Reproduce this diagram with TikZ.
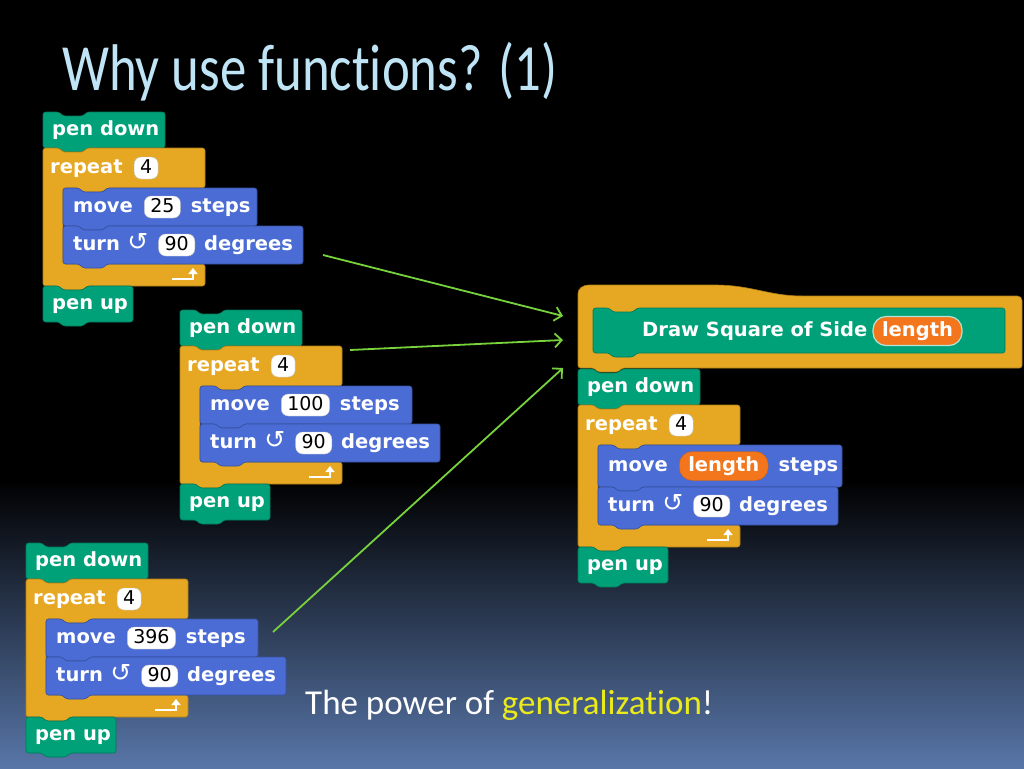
\documentclass[tikz,border=0pt]{standalone}
\usepackage{fontspec}
\setmainfont{Carlito}[Ligatures=NoCommon]
\newfontfamily\titlefont{Carlito}[FakeStretch=0.8, Ligatures=NoCommon]
\newfontfamily\snapfont{DejaVu Sans}
\usetikzlibrary{positioning,arrows.meta}

\definecolor{pen}{RGB}{0,161,120}
\definecolor{ctrl}{RGB}{230,168,34}
\definecolor{motion}{RGB}{74,108,212}
\definecolor{varorange}{RGB}{243,118,29}
\definecolor{titleblue}{RGB}{190,228,245}
\definecolor{linkgreen}{RGB}{120,210,60}
\definecolor{genyellow}{RGB}{235,235,25}
\definecolor{slidebottom}{RGB}{88,118,168}

\tikzset{
  blk/.style={draw=#1!75!black, fill=#1, line width=0.6pt, rounded corners=2.5pt},
  blocktext/.style={font=\snapfont\bfseries\fontsize{19.5}{19.5}\selectfont, text=white,
    inner sep=0pt, text height=14pt, text depth=4pt},
  turnicon/.style={font=\snapfont\fontsize{25}{25}\selectfont, text=white,
    inner sep=0pt, text height=14pt, text depth=4pt},
  numslot/.style={fill=white, draw=black!25, rounded corners=7pt,
    font=\snapfont\fontsize{19}{19}\selectfont, text=black, inner xsep=6pt,
    inner ysep=0pt, minimum height=22pt, text height=13.5pt, text depth=3.5pt},
  varslot/.style={fill=varorange, draw=varorange!80!black, rounded corners=13pt,
    font=\snapfont\bfseries\fontsize{19.5}{19.5}\selectfont, text=white, inner xsep=9pt,
    inner ysep=0pt, minimum height=29pt, text height=14pt, text depth=4pt},
  link/.style={draw=linkgreen, line width=1.8pt, -{Straight Barb[length=7pt,width=14pt]}},
}

% command block: colour, x, y, width, height
\newcommand{\cmdblock}[5]{%
  \filldraw[blk=#1] (#2,#3) -- ++(16,0) -- ++(4,4) -- ++(20,0) -- ++(4,-4)
    -- ({#2+#4},#3) -- ({#2+#4},{#3+#5}) -- ({#2+44},{#3+#5}) -- ++(-4,4)
    -- ++(-20,0) -- ++(-4,-4) -- (#2,{#3+#5}) -- cycle;}

% c-shaped block: x, y, width, top arm, inner height, bottom arm
\newcommand{\cblock}[6]{%
  \filldraw[blk=ctrl] (#1,#2) -- ++(16,0) -- ++(4,4) -- ++(20,0) -- ++(4,-4)
    -- ({#1+#3},#2) -- ++(0,#4) -- ({#1+64},{#2+#4}) -- ++(-4,4) -- ++(-20,0)
    -- ++(-4,-4) -- ({#1+20},{#2+#4}) -- ++(0,#5) -- ({#1+#3},{#2+#4+#5})
    -- ++(0,#6) -- ({#1+44},{#2+#4+#5+#6}) -- ++(-4,4) -- ++(-20,0) -- ++(-4,-4)
    -- (#1,{#2+#4+#5+#6}) -- cycle;}

% one square-drawing script: name, x, y, slot style, slot text, move width, move height
\newcommand{\squarestack}[7]{%
  \begin{scope}[shift={(#2,#3)}]
    \cmdblock{pen}{0}{0}{122}{36}
    \node[blocktext, anchor=west] (#1pd) at (9,18) {pen down};
    \cblock{0}{36}{162}{40}{#7+38}{22}
    \node[blocktext, anchor=west] (#1rp) at (7,56) {repeat};
    \node[numslot, right=11pt of #1rp] (#1n) {4};
    \cmdblock{motion}{20}{76}{#6}{#7}
    \node[blocktext, anchor=west] (#1mv) at (30,{76+#7/2}) {move};
    \node[#4, right=11pt of #1mv] (#1len) {#5};
    \node[blocktext, right=10pt of #1len] (#1st) {steps};
    \cmdblock{motion}{20}{76+#7}{240}{38}
    \node[blocktext, anchor=west] (#1tn) at (30,{95+#7}) {turn};
    \node[turnicon, right=7pt of #1tn] (#1ic) {↺};
    \node[numslot, right=10pt of #1ic] (#1deg) {90};
    \node[blocktext, right=9pt of #1deg] (#1dg) {degrees};
    \draw[white, line width=2.5pt, -{Triangle[length=6pt,width=9pt]}]
      (129,{129+#7}) -| (150,{118+#7});
    \cmdblock{pen}{0}{136+#7}{90}{36}
    \node[blocktext, anchor=west] (#1pu) at (9,{154+#7}) {pen up};
  \end{scope}}

\begin{document}
\begin{tikzpicture}[x=1pt, y=-1pt]
  \useasboundingbox (0,0) rectangle (1024,768);
  \fill[black] (0,0) rectangle (1024,481);
  \shade[top color=black, bottom color=slidebottom] (0,480) rectangle (1024,768);

  \node[anchor=base west, inner sep=0pt, text=titleblue,
    font=\titlefont\fontsize{66}{66}\selectfont] (title) at (62,90) {Why use functions? (1)};

  % the three scripts
  \squarestack{a}{43}{112}{numslot}{25}{194}{38}
  \squarestack{b}{180}{310}{numslot}{100}{212}{38}
  \squarestack{c}{26}{543}{numslot}{396}{212}{38}

  % the new block
  \filldraw[blk=ctrl] (578,368) -- (578,296) .. controls (578,289) and (582,285) .. (592,285)
    -- (712,285) .. controls (752,285) and (768,296) .. (805,296) -- (1015,296)
    .. controls (1020,296) and (1022,298) .. (1022,303) -- (1022,368)
    -- (622,368) -- (618,372) -- (598,372) -- (594,368) -- cycle;
  \cmdblock{pen}{593}{308}{412}{45}
  \node[blocktext, anchor=west] (proto) at (642,331) {Draw Square of Side};
  \node[varslot, draw=pen!30!white, line width=1.2pt, right=5pt of proto] (param) {length};
  \squarestack{d}{578}{369}{varslot}{length}{244}{42}

  % links
  \coordinate (s1) at (323,255);
  \coordinate (s2) at (350,350);
  \coordinate (s3) at (273,632);
  \coordinate (e1) at (563,316);
  \coordinate (e2) at (563,340);
  \coordinate (e3) at (563,368);
  \draw[link] (s1) -- (e1);
  \draw[link] (s2) -- (e2);
  \draw[link] (s3) -- (e3);

  \node[anchor=base west, inner sep=0pt, text=white, font=\fontsize{35}{35}\selectfont]
    (moral) at (305,714) {The power of \textcolor{genyellow}{generalization}!};
\end{tikzpicture}
\end{document}
